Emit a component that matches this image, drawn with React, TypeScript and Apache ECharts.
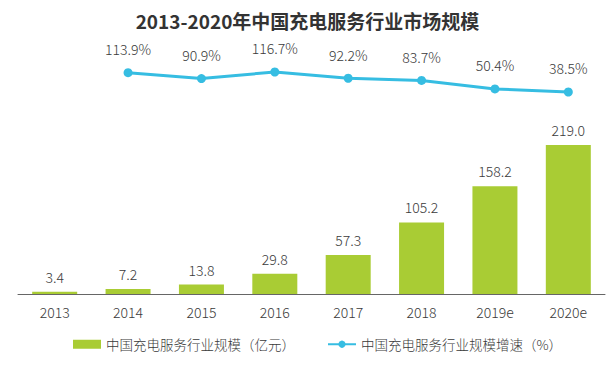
import React, { useEffect, useRef } from "react";
import * as echarts from "echarts";

const categories = ["2013", "2014", "2015", "2016", "2017", "2018", "2019e", "2020e"];
const marketSize = [3.4, 7.2, 13.8, 29.8, 57.3, 105.2, 158.2, 219.0];
const growthRate = [null, 113.9, 90.9, 116.7, 92.2, 83.7, 50.4, 38.5];
const seriesNames = ["中国充电服务行业规模（亿元）", "中国充电服务行业规模增速（%）"];
const title = "2013-2020年中国充电服务行业市场规模";

const FONT = "'Noto Sans CJK SC', 'Noto Sans', sans-serif";
const GREEN = "#a9cc34";
const CYAN = "#36bde2";
const TXT = "#3a3a3a";

export default function App() {
  const ref = useRef<HTMLDivElement>(null);
  useEffect(() => {
    const chart = echarts.init(ref.current!, null, { renderer: "svg" });
    chart.setOption({
      animation: false,
      backgroundColor: "#ffffff",
      textStyle: { fontFamily: FONT },
      title: {
        text: title,
        left: "center",
        top: 6,
        textStyle: { fontFamily: FONT, fontSize: 19, fontWeight: "bold", color: "#333333" },
      },
      legend: {
        bottom: 13,
        left: 68,
        itemGap: 32,
        itemWidth: 28,
        itemHeight: 9,
        textStyle: { fontFamily: FONT, fontSize: 13.5, fontWeight: 300, color: TXT },
        data: [
          { name: seriesNames[0], icon: "rect" },
          { name: seriesNames[1] },
        ],
      },
      grid: { left: 18, right: 10, top: 45, bottom: 75, containLabel: false },
      xAxis: {
        type: "category",
        data: categories,
        axisLine: { lineStyle: { color: "#666666", width: 1 } },
        axisTick: { show: false },
        axisLabel: { fontFamily: FONT, fontSize: 14, fontWeight: 300, color: TXT, margin: 11 },
      },
      yAxis: [
        { type: "value", min: 0, max: 366, show: false, splitLine: { show: false } },
        { type: "value", min: -751.4, max: 222.2, show: false, splitLine: { show: false } },
      ],
      series: [
        {
          name: seriesNames[0],
          type: "bar",
          data: marketSize,
          barWidth: 45,
          itemStyle: { color: GREEN },
          label: {
            show: true,
            position: "top",
            distance: 8,
            fontFamily: FONT,
            fontSize: 14,
            fontWeight: 300,
            color: TXT,
            formatter: (p: any) => Number(p.value).toFixed(1),
          },
        },
        {
          name: seriesNames[1],
          type: "line",
          yAxisIndex: 1,
          data: growthRate,
          symbol: "circle",
          symbolSize: 9,
          lineStyle: { color: CYAN, width: 3 },
          itemStyle: { color: CYAN },
          label: {
            show: true,
            position: "top",
            distance: 12,
            fontFamily: FONT,
            fontSize: 14,
            fontWeight: 300,
            color: TXT,
            formatter: (p: any) => Number(p.value).toFixed(1) + "%",
          },
        },
      ],
    });
    return () => chart.dispose();
  }, []);
  return <div ref={ref} style={{ width: 615, height: 369, margin: -8 }} />;
}
